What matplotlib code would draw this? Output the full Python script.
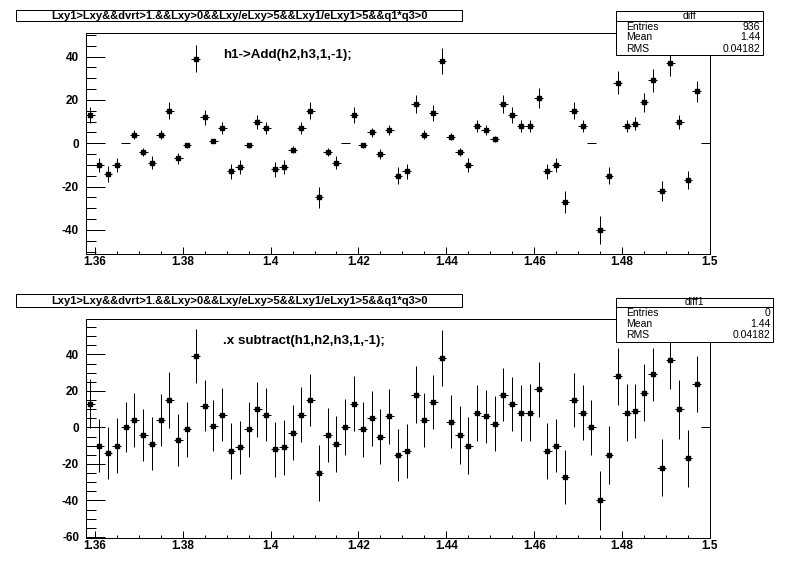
import matplotlib
matplotlib.use("Agg")
import matplotlib.pyplot as plt
from matplotlib.patches import Rectangle
from matplotlib.ticker import MultipleLocator
import numpy as np

plt.rcParams["axes.unicode_minus"] = False

# binning of the "diff" histograms
bin_lo = 1.358
bin_w = 0.002
centers = bin_lo + bin_w * (np.arange(71) + 0.5)

# bin contents (same in both pads)
values = [13, -10, -14, -10, 0, 4, -4, -9, 4, 15, -7, -1, 39, 12, 1, 7, -13, -11,
          -1, 10, 7, -12, -11, -3, 7, 15, -25, -4, -9, 0, 13, -1, 5, -5, 6, -15,
          -13, 18, 4, 14, 38, 3, -4, -10, 8, 6, 2, 18, 13, 8, 8, 21, -13, -10,
          -27, 15, 8, 0, -40, -15, 28, 8, 9, 19, 29, -22, 37, 10, -17, 24, 0]

# errors from h1->Add (top pad)
err_add = [3.6, 3.2, 3.7, 3.2, 0, 2.0, 2.0, 3.0, 2.0, 3.9, 2.6, 1.0, 6.2, 3.5, 1.0, 2.6,
           3.6, 3.3, 1.0, 3.2, 2.6, 3.5, 3.3, 1.7, 2.6, 3.9, 5.0, 2.0, 3.0, 0, 3.6, 1.0,
           2.2, 2.2, 2.4, 3.9, 3.6, 4.2, 2.0, 3.7, 6.2, 1.7, 2.0, 3.2, 2.8, 2.4, 1.4, 4.2,
           3.6, 2.8, 2.8, 4.6, 3.6, 3.2, 5.2, 3.9, 2.8, 0, 6.3, 3.9, 5.3, 2.8, 3.0, 4.4,
           5.4, 4.7, 6.1, 3.2, 4.1, 4.9, 0]

# errors from subtract macro (bottom pad)
err_sub = [13.5, 14.4, 14.4, 15.1, 13.7, 14.9, 14.2, 14.5, 14.4, 15.1, 14.4, 15.0, 14.9,
           14.2, 13.9, 14.7, 15.2, 14.6, 15.0, 15.1, 14.7, 15.2, 15.2, 15.1, 15.2, 14.2,
           15.5, 14.9, 15.5, 15.3, 14.9, 15.0, 15.1, 15.0, 15.0, 14.4, 14.8, 15.4, 14.7,
           14.8, 15.5, 14.5, 15.9, 15.8, 15.3, 14.3, 15.1, 14.6, 14.8, 15.4, 15.6, 15.1,
           15.2, 14.7, 14.8, 14.9, 15.0, 15.1, 16.0, 15.9, 15.7, 15.7, 14.6, 15.5, 14.3,
           15.5, 16.0, 16.2, 15.8, 15.3, 0]

cut = "Lxy1>Lxy&&dvrt>1.&&Lxy>0&&Lxy/eLxy>5&&Lxy1/eLxy1>5&&q1*q3>0"

W, H = 796, 572
FONT = "Liberation Sans"
LW = 0.72


def fx(px):
    return px / W


def fy(py):
    return 1 - py / H


def draw_pad(ax, err, ylim, label):
    x = np.array(centers)
    y = np.array(values, dtype=float)
    e = np.array(err)
    full = e > 0
    ax.errorbar(x[full], y[full], xerr=bin_w / 2, yerr=e[full], fmt="s", color="black",
                ms=2.2, elinewidth=LW, capsize=0)
    # empty-error bins: only the horizontal bar
    ax.errorbar(x[~full], y[~full], xerr=bin_w / 2, fmt="none", ecolor="black",
                elinewidth=LW, capsize=0)
    ax.set_xlim(1.358, 1.5)
    ax.set_ylim(*ylim)
    ax.xaxis.set_minor_locator(MultipleLocator(0.005))
    ax.yaxis.set_major_locator(MultipleLocator(20))
    ax.yaxis.set_minor_locator(MultipleLocator(5))
    ax.set_xticks([1.36, 1.38, 1.4, 1.42, 1.44, 1.46, 1.48, 1.5])
    ax.set_xticklabels(["1.36", "1.38", "1.4", "1.42", "1.44", "1.46", "1.48", "1.5"])
    ax.tick_params(axis="both", which="both", direction="in", width=LW, color="black",
                   top=False, right=False)
    ax.tick_params(axis="y", which="major", length=13.5, pad=5)
    ax.tick_params(axis="y", which="minor", length=7)
    ax.tick_params(axis="x", which="major", length=4.8, pad=1.5)
    ax.tick_params(axis="x", which="minor", length=2.4)
    for lab in ax.get_xticklabels() + ax.get_yticklabels():
        lab.set_fontfamily(FONT)
        lab.set_fontweight("bold")
        lab.set_fontsize(8.5)
    for s in ax.spines.values():
        s.set_linewidth(LW)
    ax.text(0.22, 0.9, label, transform=ax.transAxes, fontfamily=FONT,
            fontweight="bold", fontsize=9.6, ha="left", va="center")


def title_box(fig, top, bottom):
    fig.patches.append(Rectangle((fx(16), fy(bottom)), fx(462) - fx(16), (bottom - top) / H,
                                 transform=fig.transFigure, facecolor="white",
                                 edgecolor="black", lw=LW, zorder=5))
    fig.text(fx(239), fy((top + bottom) / 2), cut, fontfamily=FONT, fontweight="bold",
             fontsize=8, ha="center", va="center", zorder=6)


def stats_box(fig, name, entries, left, right, top, sep, bottom, rows_y):
    fig.patches.append(Rectangle((fx(left), fy(bottom)), fx(right) - fx(left),
                                 (bottom - top) / H, transform=fig.transFigure,
                                 facecolor="white", edgecolor="black", lw=LW, zorder=5))
    fig.add_artist(plt.Line2D([fx(left), fx(right)], [fy(sep), fy(sep)],
                              transform=fig.transFigure, color="black", lw=LW, zorder=6))
    fig.text(fx((left + right) / 2), fy((top + sep) / 2), name, fontfamily=FONT,
             fontsize=7.5, ha="center", va="center", zorder=7)
    names = ["Entries", "Mean", "RMS"]
    vals = [entries, "1.44", "0.04182"]
    for n, v, yy in zip(names, vals, rows_y):
        fig.text(fx(left + 10), fy(yy), n, fontfamily=FONT, fontsize=7.5,
                 ha="left", va="center", zorder=7)
        fig.text(fx(right - 3), fy(yy), v, fontfamily=FONT, fontsize=7.5,
                 ha="right", va="center", zorder=7)


fig = plt.figure(figsize=(W / 100, H / 100), dpi=100)
fig.patch.set_facecolor("white")

ax1 = fig.add_axes([fx(86), fy(254), fx(710) - fx(86), (254 - 33) / H])
draw_pad(ax1, err_add, (-51.1, 50.9), "h1->Add(h2,h3,1,-1);")

ax2 = fig.add_axes([fx(86), fy(538), fx(710) - fx(86), (538 - 319) / H])
draw_pad(ax2, err_sub, (-60.6, 59.4), ".x subtract(h1,h2,h3,1,-1);")

title_box(fig, 10, 21.3)
title_box(fig, 294.3, 307)
stats_box(fig, "diff", "936", 616, 763, 11, 21.3, 55, [26.7, 37.5, 49])
stats_box(fig, "diff1", "0", 616, 773, 297.7, 306.7, 341.7, [313.3, 324, 335])

fig.savefig("out.png", dpi=100)
